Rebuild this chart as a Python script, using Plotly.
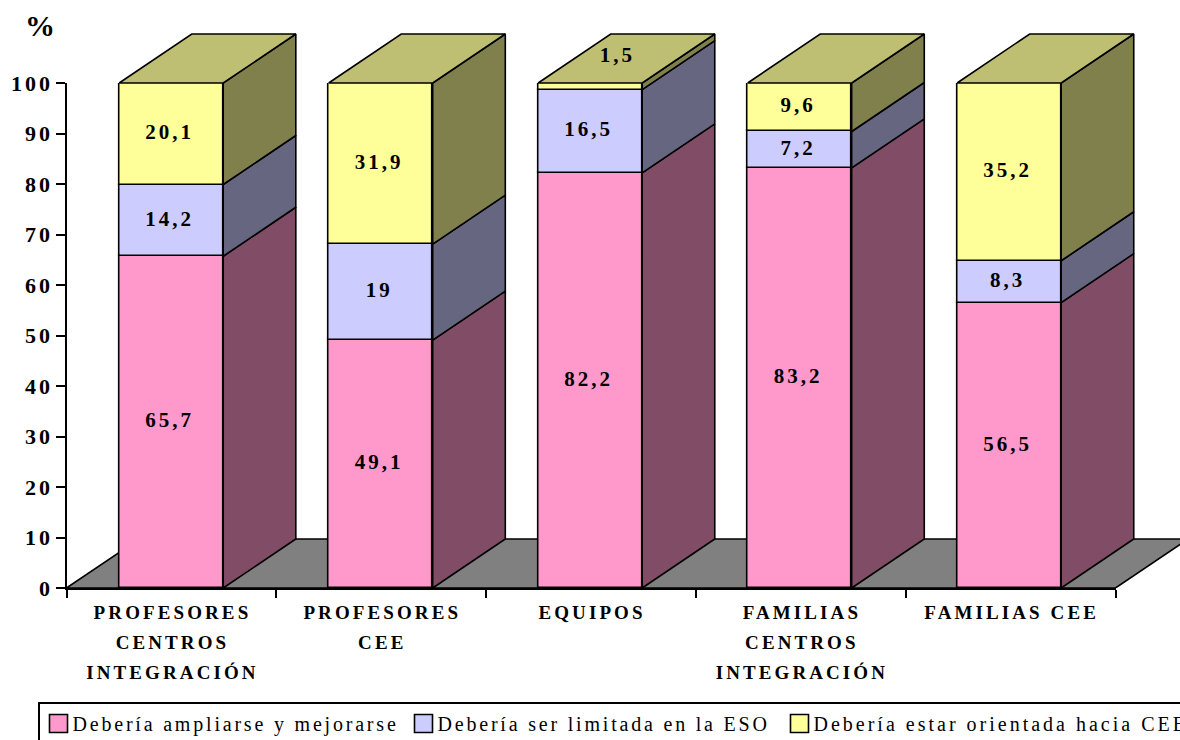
import plotly.graph_objects as go

categories = ["PROFESORES<br>CENTROS<br>INTEGRACIÓN", "PROFESORES<br>CEE", "EQUIPOS",
              "FAMILIAS<br>CENTROS<br>INTEGRACIÓN", "FAMILIAS CEE"]
ampliarse = [65.7, 49.1, 82.2, 83.2, 56.5]
limitada = [14.2, 19, 16.5, 7.2, 8.3]
orientada = [20.1, 31.9, 1.5, 9.6, 35.2]
series_names = ["Debería ampliarse y mejorarse", "Debería ser limitada en la ESO",
                "Debería estar orientada hacia CEE"]
y_ticks = [0, 10, 20, 30, 40, 50, 60, 70, 80, 90, 100]

series = [ampliarse, limitada, orientada]
front = ["#FF99CC", "#CCCCFF", "#FFFF99"]
side = ["#804C66", "#666680", "#80804C"]
top_color = "#BFBF73"
floor_color = "#808080"
FONT = "Liberation Serif"
DX, DY = 0.346, 9.7      # oblique depth of the 3-D effect, in axis units
BW = 0.496
OFFSET, PITCH = 0.499, 0.9985
INK = "#000000"
N = len(categories)
centers = [OFFSET + i * PITCH for i in range(N)]
LW = 1.6

W, H = 1300, 760
L, R, T, B = 66.5, 1115.5, 83, 588
XU = (R - L) / N          # pixels per category
YU = (B - T) / 100        # pixels per percent unit

fig = go.Figure()
cum = [0.0] * N
for s, vals in enumerate(series):
    fig.add_trace(go.Bar(x=centers, y=vals, width=BW, base=cum[:], name=series_names[s],
                         marker=dict(color=front[s], line=dict(color=INK, width=LW)),
                         hoverinfo="skip"))
    cum = [c + v for c, v in zip(cum, vals)]

cum = [0.0] * N
for s, vals in enumerate(series):
    px, py = [], []
    for i in range(N):
        lo, hi = cum[i], min(cum[i] + vals[i], 100)
        x1 = centers[i] + BW / 2
        px += [x1, x1 + DX, x1 + DX, x1, x1, None]
        py += [lo, lo + DY, hi + DY, hi, lo, None]
    fig.add_trace(go.Scatter(x=px, y=py, xaxis="x2", yaxis="y2", mode="lines", fill="toself",
                             fillcolor=side[s], line=dict(color=INK, width=LW),
                             showlegend=False, hoverinfo="skip"))
    cum = [c + v for c, v in zip(cum, vals)]

tx, ty = [], []
for i in range(N):
    x0, x1 = centers[i] - BW / 2, centers[i] + BW / 2
    tx += [x0, x0 + DX, x1 + DX, x1, x0, None]
    ty += [100, 100 + DY, 100 + DY, 100, 100, None]
fig.add_trace(go.Scatter(x=tx, y=ty, xaxis="x2", yaxis="y2", mode="lines", fill="toself",
                         fillcolor=top_color, line=dict(color=INK, width=LW),
                         showlegend=False, hoverinfo="skip"))

# value labels
lx, ly, lt = [], [], []
cum = [0.0] * N
for vals in series:
    for i in range(N):
        v = vals[i]
        mid = min(cum[i] + v / 2, 100)
        if v < 5:   # thin segment: label sits on the top face
            lx.append(centers[i] + 0.376 * DX)
            ly.append(mid + 0.585 * DY)
        else:
            lx.append(centers[i] - 0.007)
            ly.append(mid)
        lt.append(f"{v:g}".replace(".", ","))
        cum[i] += v
fig.add_trace(go.Scatter(x=lx, y=ly, text=lt, mode="text", xaxis="x2", yaxis="y2",
                         textposition="middle center",
                         textfont=dict(family=FONT, size=21, color="#000000", weight="bold"),
                         showlegend=False, hoverinfo="skip"))

def paper_x(v):
    return (L + v * XU) / W

fig.update_layout(
    width=W, height=H, autosize=False,
    margin=dict(l=0, r=0, t=0, b=0, autoexpand=False, pad=0),
    paper_bgcolor="#FFFFFF", plot_bgcolor="rgba(0,0,0,0)",
    barmode="overlay", bargap=0,
    font=dict(family=FONT, color="#000000"),
    xaxis=dict(domain=[L / W, R / W], range=[0, N], tickmode="array",
               tickvals=[i + 0.505 for i in range(N)], ticktext=categories,
               ticks="", showgrid=False, zeroline=False, showline=True,
               linecolor=INK, linewidth=2, ticklabelstandoff=6, tickangle=0,
               tickfont=dict(family=FONT, size=19, color="#000000", weight="bold"),
               minor=dict(tickmode="array", tickvals=list(range(N + 1)), ticks="outside",
                          ticklen=8, tickwidth=2, tickcolor=INK, showgrid=False)),
    yaxis=dict(domain=[1 - B / H, 1 - T / H], range=[0, 100], tickmode="array", tickvals=y_ticks,
               ticks="outside", ticklen=9, tickwidth=2, tickcolor=INK, showgrid=False,
               zeroline=False, showline=True, linecolor=INK, linewidth=2, ticklabelstandoff=-2,
               tickfont=dict(family=FONT, size=22, color="#000000", weight="bold")),
    xaxis2=dict(domain=[0, 1], range=[-L / XU, (W - L) / XU], visible=False, anchor="y2"),
    yaxis2=dict(domain=[0, 1], range=[-(H - B) / YU, B / YU], visible=False, anchor="x2"),
    legend=dict(orientation="h", x=37.5 / W, y=1 - 702 / H, xanchor="left", yanchor="top",
                bgcolor="#FFFFFF", bordercolor=INK, borderwidth=2,
                font=dict(family=FONT, size=20, color="#000000"),
                entrywidth=322, entrywidthmode="pixels", itemclick=False, itemdoubleclick=False,
                traceorder="normal"),
    shapes=[dict(type="path", layer="below", xref="paper", yref="y",
                 path=f"M {paper_x(0)} 0 L {paper_x(DX)} {DY} L {paper_x(N + DX)} {DY} L {paper_x(N)} 0 Z",
                 fillcolor=floor_color, line=dict(color=INK, width=LW))],
    annotations=[dict(text="%", xref="paper", yref="paper", x=40 / W, y=1 - 26 / H,
                      showarrow=False, xanchor="center", yanchor="middle",
                      font=dict(family=FONT, size=30, color="#000000", weight="bold"))],
)

post = """
document.documentElement.style.overflow='hidden';
document.body.style.margin='0';
document.body.style.overflow='hidden';
document.querySelectorAll('.xtick text').forEach(t=>{t.style.letterSpacing='3.1px';});
document.querySelectorAll('.ytick text, .textpoint text').forEach(t=>{t.style.letterSpacing='3px';});
document.querySelectorAll('.legendtext').forEach((t,i)=>{t.style.letterSpacing=(i==2?'3px':'2.8px');t.setAttribute('x',34);});
document.querySelectorAll('.xtick text tspan.line').forEach(t=>{
  var n=[...t.parentNode.querySelectorAll('tspan.line')].indexOf(t);
  t.setAttribute('dy',(n*1.58)+'em');
  t.setAttribute('x',t.parentNode.getAttribute('x'));
});
document.querySelectorAll('.legendtext tspan').forEach(t=>{t.setAttribute('x',34);});
document.querySelectorAll('.legendpoints path').forEach(p=>{p.setAttribute('d','M9,9H-9V-9H9Z');});
document.querySelectorAll('.legend .scrollbox').forEach(s=>{s.removeAttribute('clip-path');});
document.querySelectorAll('.legend rect.bg').forEach(r=>{r.setAttribute('height',70);r.setAttribute('width',1400);});
var shift=[-1,-3,6];
document.querySelectorAll('.legend .traces').forEach((g,i)=>{
  var m=/translate\\(([-\\d.]+),\\s*([-\\d.]+)\\)/.exec(g.getAttribute('transform'));
  if(m){g.setAttribute('transform','translate('+(parseFloat(m[1])+shift[i])+','+m[2]+')');}
});
"""
fig.write_html("out.html", post_script=post, config=dict(displayModeBar=False))
